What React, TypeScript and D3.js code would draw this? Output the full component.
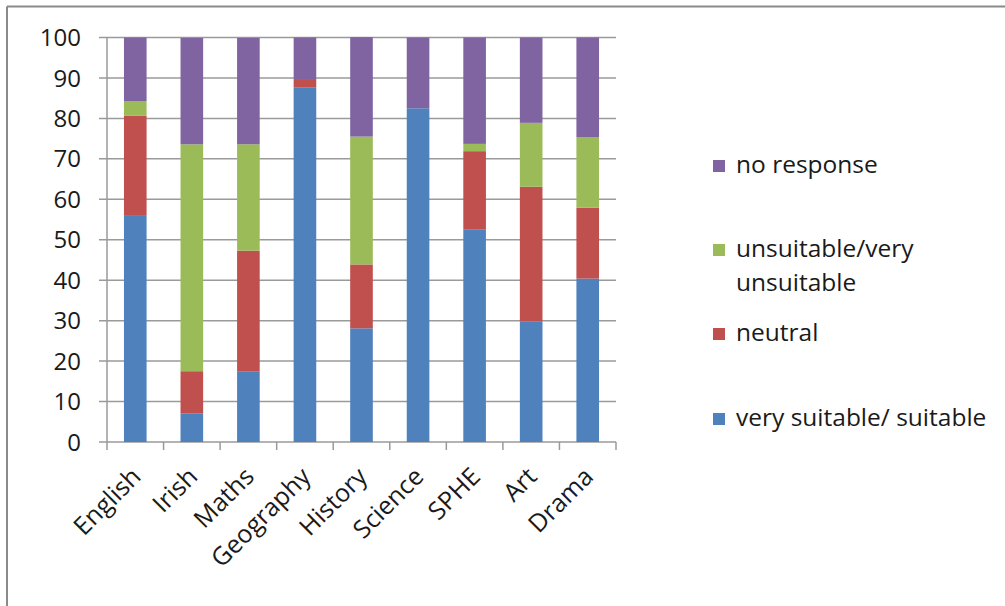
import React from "react";
import * as d3 from "d3";

// Subjects surveyed and the share (%) of responses in each rating
const subjects = ["English", "Irish", "Maths", "Geography", "History", "Science", "SPHE", "Art", "Drama"];
const suitable = [56.1, 7.0, 17.5, 87.7, 28.1, 82.5, 52.6, 29.8, 40.4];
const neutral = [24.6, 10.5, 29.8, 1.8, 15.8, 0, 19.3, 33.3, 17.5];
const unsuitable = [3.5, 56.1, 26.3, 0, 31.6, 0, 1.8, 15.8, 17.5];
const noResponse = [15.8, 26.3, 26.3, 10.5, 24.6, 17.5, 26.3, 21.1, 24.6];

const seriesKeys = ["suitable", "neutral", "unsuitable", "noResponse"];
const seriesLabels = [["very suitable/ suitable"], ["neutral"], ["unsuitable/very", "unsuitable"], ["no response"]];
const seriesColors = ["#4F81BD", "#C0504D", "#9BBB59", "#8064A2"];
const yTicks = [0, 10, 20, 30, 40, 50, 60, 70, 80, 90, 100];

const W = 1005;
const H = 606;
const FONT = "'Open Sans', sans-serif";

export default function App() {
  const rows = subjects.map((s, i) => ({
    subject: s,
    suitable: suitable[i],
    neutral: neutral[i],
    unsuitable: unsuitable[i],
    noResponse: noResponse[i],
  }));
  const stacked = d3.stack<any>().keys(seriesKeys)(rows);

  const x = d3.scaleBand().domain(subjects).range([107, 616]).paddingInner(0.6).paddingOuter(0.3);
  const y = d3.scaleLinear().domain([0, 100]).range([442, 37.5]);
  const step = x.step();
  const x0 = 107;
  const x1 = 616;

  // legend row centres, in stacking order (bottom series first)
  const legendY = [419, 334, 250, 166];

  return (
    <svg
      width={W}
      height={H}
      viewBox={`0 0 ${W} ${H}`}
      style={{ position: "fixed", left: 0, top: 0, background: "#fff" }}
    >
      {/* outer frame: top and left edges */}
      <line x1={7} y1={6.5} x2={W} y2={6.5} stroke="#8a8a8a" strokeWidth={2} />
      <line x1={7} y1={6.5} x2={7} y2={H} stroke="#8a8a8a" strokeWidth={2} />

      {/* gridlines and y ticks */}
      {yTicks.map((t) => (
        <g key={t}>
          <line x1={99} x2={x1} y1={y(t)} y2={y(t)} stroke="#9a9a9a" strokeWidth={1.5} />
          <text
            x={81}
            y={y(t)}
            dy="0.36em"
            textAnchor="end"
            fontFamily={FONT}
            fontSize={24}
            fill="#1a1a1a"
          >
            {t}
          </text>
        </g>
      ))}

      {/* y axis line */}
      <line x1={x0} x2={x0} y1={y(100)} y2={y(0)} stroke="#9a9a9a" strokeWidth={1.5} />

      {/* category ticks */}
      {d3.range(subjects.length + 1).map((i) => (
        <line
          key={i}
          x1={x0 + i * step}
          x2={x0 + i * step}
          y1={y(0)}
          y2={y(0) + 8}
          stroke="#9a9a9a"
          strokeWidth={1.5}
        />
      ))}

      {/* stacked bars */}
      {stacked.map((layer, li) => (
        <g key={layer.key} fill={seriesColors[li]}>
          {layer.map((d, i) =>
            d[1] - d[0] > 0 ? (
              <rect
                key={i}
                x={x(subjects[i])}
                width={x.bandwidth()}
                y={y(d[1])}
                height={y(d[0]) - y(d[1])}
              />
            ) : null
          )}
        </g>
      ))}

      {/* category labels */}
      {subjects.map((s) => {
        const cx = (x(s) as number) + x.bandwidth() / 2 + 1;
        const cy = y(0) + 30;
        return (
          <text
            key={s}
            transform={`translate(${cx},${cy}) rotate(-45)`}
            textAnchor="end"
            dy="0.35em"
            fontFamily={FONT}
            fontSize={25}
            fill="#1a1a1a"
          >
            {s}
          </text>
        );
      })}

      {/* legend */}
      {seriesKeys.map((k, i) => (
        <g key={k} transform={`translate(713,${legendY[i]})`}>
          <rect x={0} y={-6} width={12} height={12} fill={seriesColors[i]} />
          {seriesLabels[i].map((line, j) => (
            <text
              key={j}
              x={23}
              y={j * 34}
              dy="0.27em"
              fontFamily={FONT}
              fontSize={24.5}
              fill="#1a1a1a"
            >
              {line}
            </text>
          ))}
        </g>
      ))}
    </svg>
  );
}
